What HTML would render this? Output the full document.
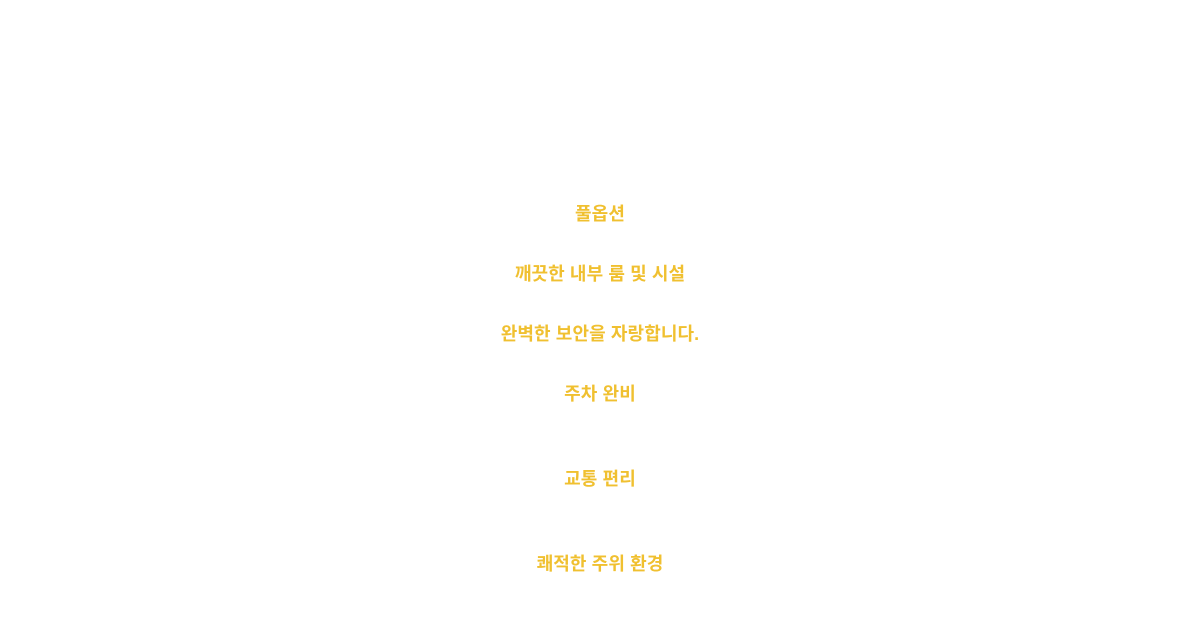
<!DOCTYPE html>
<html><head><meta charset="utf-8"><style>
html,body{margin:0;padding:0;width:1200px;height:619px;background:#fff;overflow:hidden}
.t{position:absolute;left:0;width:1200px;text-align:center;font-family:"Liberation Sans","Noto Sans CJK KR",sans-serif;font-size:18px;font-weight:700;color:#f0c030;line-height:20px;letter-spacing:0.1px}
</style></head><body>
<div class="t" style="top:204px">풀옵션</div>
<div class="t" style="top:264px">깨끗한 내부 룸 및 시설</div>
<div class="t" style="top:324px">완벽한 보안을 자랑합니다.</div>
<div class="t" style="top:384px">주차 완비</div>
<div class="t" style="top:469px">교통 편리</div>
<div class="t" style="top:554px">쾌적한 주위 환경</div>
</body></html>
